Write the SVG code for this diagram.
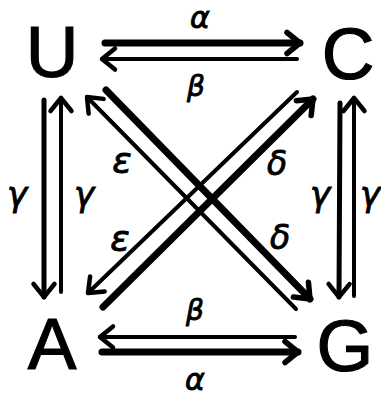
<svg xmlns="http://www.w3.org/2000/svg" width="381" height="399" viewBox="0 0 381 399">
<style>
.node{font-family:"Liberation Sans","DejaVu Sans",sans-serif;font-size:73px;fill:#000;stroke:#000;stroke-width:1.2;text-anchor:middle}
.lbl{font-family:"DejaVu Sans","Liberation Sans",sans-serif;font-style:italic;fill:#000;stroke:#000;stroke-width:0.9;text-anchor:middle}
.thick{stroke:#000;stroke-width:7;fill:none;stroke-linecap:round}
.thin{stroke:#000;stroke-width:4;fill:none;stroke-linecap:round}
.mid{stroke:#000;stroke-width:5;fill:none;stroke-linecap:round}
</style>
<defs>
<marker id="hk" markerUnits="userSpaceOnUse" orient="auto" refX="0" refY="0" markerWidth="1" markerHeight="1" overflow="visible">
<path d="M-13,-10.5 L0,0 L-13,10.5" fill="none" stroke="#000" stroke-width="5.5" stroke-linecap="round" stroke-linejoin="round"/>
</marker>
<marker id="hn" markerUnits="userSpaceOnUse" orient="auto" refX="0" refY="0" markerWidth="1" markerHeight="1" overflow="visible">
<path d="M-13,-10.5 L0,0 L-13,10.5" fill="none" stroke="#000" stroke-width="4.5" stroke-linecap="round" stroke-linejoin="round"/>
</marker>
</defs>
<g id="U"><text class="node" x="52" y="77">U</text></g>
<g id="C"><text class="node" x="348" y="79">C</text></g>
<g id="A"><text class="node" x="52" y="369">A</text></g>
<g id="G"><text class="node" x="345" y="371">G</text></g>
<g id="connectors">
<path class="thick" d="M105,43 L300,43" marker-end="url(#hk)"/>
<path class="thin" d="M297,59 L102,59" marker-end="url(#hn)"/>
<path class="thin" d="M295,337 L100,337" marker-end="url(#hn)"/>
<path class="thick" d="M102,352 L298,352" marker-end="url(#hk)"/>
<path class="mid" d="M44,100 L44,297" marker-end="url(#hn)"/>
<path class="thin" d="M61,292 L61,98" marker-end="url(#hn)"/>
<path class="mid" d="M340,103 L339,297" marker-end="url(#hn)"/>
<path class="thin" d="M354,296 L354,98" marker-end="url(#hn)"/>
<path class="thick" d="M106,90 L310,299" marker-end="url(#hk)"/>
<path class="thin" d="M296,309 L87,97" marker-end="url(#hn)"/>
<path class="thick" d="M103,307 L313,99" marker-end="url(#hk)"/>
<path class="thin" d="M297,92 L88,293" marker-end="url(#hn)"/>
</g>
<g id="labels">
<text class="lbl" x="200" y="28" font-size="30">α</text>
<text class="lbl" x="196" y="96" font-size="28">β</text>
<text class="lbl" x="195" y="320" font-size="28">β</text>
<text class="lbl" x="195" y="390" font-size="30">α</text>
<text class="lbl" x="17" y="206" font-size="34">γ</text>
<text class="lbl" x="84" y="206" font-size="34">γ</text>
<text class="lbl" x="320" y="206" font-size="34">γ</text>
<text class="lbl" x="370" y="206" font-size="34">γ</text>
<text class="lbl" x="122" y="173" font-size="36">ε</text>
<text class="lbl" x="120" y="251" font-size="36">ε</text>
<text class="lbl" x="277" y="175" font-size="33">δ</text>
<text class="lbl" x="280" y="249" font-size="33">δ</text>
</g>
</svg>
